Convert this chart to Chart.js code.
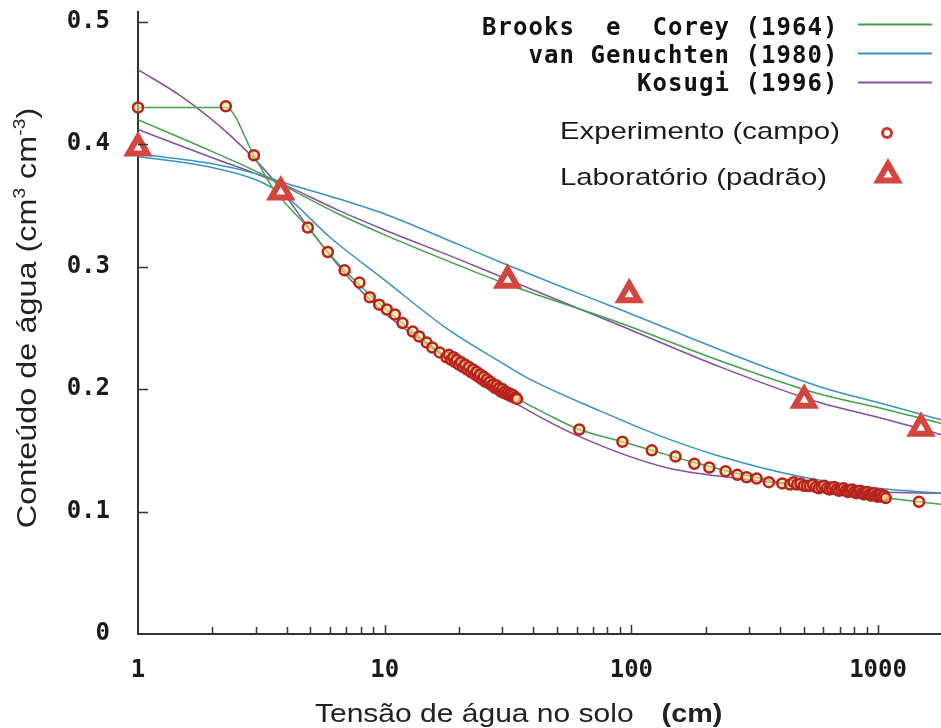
<!DOCTYPE html>
<html lang="pt">
<head>
<meta charset="UTF-8">
<title>Curva de retenção de água no solo</title>
<script src="https://cdn.jsdelivr.net/npm/chart.js"></script>
<style>
  html, body { margin: 0; padding: 0; background: #fff; }
  #wrap { width: 941px; height: 728px; }
</style>
</head>
<body>
<div id="wrap"><canvas id="retencao" width="941" height="728"></canvas></div>
<script>
// eixos
const xTickVals = [1, 10, 100, 1000];
const xMinorTicks = [2, 3, 4, 5, 6, 7, 8, 9, 20, 30, 40, 50, 60, 70, 80, 90, 200, 300, 400, 500, 600, 700, 800, 900];
const yTickVals = [0, 0.1, 0.2, 0.3, 0.4, 0.5];

// Experimento (campo): tensão (cm) e conteúdo de água
const hCampo = [1, 2.27, 2.95, 4.88, 5.88, 6.88, 7.9, 8.7, 9.5, 10.2, 11.0, 11.8, 13.0, 13.8, 14.8, 15.6, 16.7, 17.8,
  18.2, 18.6, 19.0, 19.3, 19.6, 20.0, 20.4, 20.8, 21.2, 21.6, 22.0, 22.4, 22.8, 23.2, 23.6, 24.0, 24.4, 24.8, 25.2, 25.6,
  26.0, 26.4, 26.8, 27.2, 27.6, 28.0, 28.4, 28.8, 29.2, 29.6, 30.0, 30.4, 30.8, 31.2, 31.6, 32.0, 32.4, 32.8, 33.2, 33.6, 34.0, 34.4,
  61.5, 92, 121, 151, 180, 207, 241, 269, 293, 322, 361, 409,
  440, 455, 470, 485, 500, 515, 530, 545, 560, 575, 590, 605, 620, 635, 650, 665, 680, 695, 710, 725, 740, 755, 770, 785,
  800, 815, 830, 845, 860, 875, 890, 905, 920, 935, 950, 965, 980, 995, 1010, 1025, 1040, 1060, 1075, 1466];
const thCampo = [0.430, 0.431, 0.391, 0.332, 0.312, 0.297, 0.287, 0.275, 0.269, 0.265, 0.261, 0.254, 0.247, 0.243, 0.238, 0.234, 0.230, 0.226,
  0.228, 0.224, 0.226, 0.222, 0.224, 0.220, 0.222, 0.218, 0.220, 0.216, 0.218, 0.214, 0.216, 0.212, 0.214, 0.210, 0.212, 0.208, 0.210, 0.206,
  0.208, 0.205, 0.206, 0.203, 0.204, 0.201, 0.203, 0.200, 0.201, 0.198, 0.200, 0.197, 0.198, 0.196, 0.197, 0.195, 0.196, 0.194, 0.195, 0.193, 0.193, 0.192,
  0.167, 0.157, 0.150, 0.145, 0.139, 0.136, 0.133, 0.130, 0.128, 0.127, 0.124, 0.123,
  0.122, 0.124, 0.122, 0.123, 0.121, 0.121, 0.121, 0.122, 0.120, 0.119, 0.120, 0.121, 0.119, 0.118, 0.119, 0.120, 0.118, 0.117, 0.118, 0.119, 0.117, 0.116, 0.117, 0.118,
  0.116, 0.115, 0.116, 0.117, 0.115, 0.114, 0.115, 0.116, 0.114, 0.113, 0.114, 0.115, 0.113, 0.112, 0.113, 0.114, 0.112, 0.113, 0.111, 0.108];

// Laboratório (padrão)
const hLab = [1, 3.79, 31.5, 98, 502, 1493];
const thLab = [0.397, 0.361, 0.289, 0.277, 0.191, 0.168];

// Brooks e Corey (1964)
const hBcLab = [1, 2, 3, 4, 6.5, 10, 20, 31, 90, 230, 580, 1000, 1800];
const thBcLab = [0.420, 0.394, 0.378, 0.365, 0.343, 0.326, 0.301, 0.286, 0.254, 0.223, 0.196, 0.185, 0.172];
const hBcCampo = [1, 2.27, 2.95, 3.5, 4.88, 5.88, 6.88, 7.9, 10, 13, 16, 20, 25, 33, 45, 61.5, 92, 121, 180, 270, 400, 700, 1080, 1466, 1800];
const thBcCampo = [0.430, 0.430, 0.391, 0.365, 0.332, 0.312, 0.297, 0.285, 0.266, 0.247, 0.233, 0.220, 0.207, 0.194, 0.180, 0.167, 0.157, 0.150, 0.140, 0.131, 0.124, 0.116, 0.111, 0.108, 0.106];

// van Genuchten (1980)
const hVgLab = [1, 2, 3, 4, 6.6, 10, 20, 30, 50, 90, 230, 580, 1000, 1800];
const thVgLab = [0.392, 0.384, 0.376, 0.368, 0.355, 0.343, 0.318, 0.303, 0.285, 0.265, 0.232, 0.202, 0.189, 0.175];
const hVgCampo = [1, 2, 3, 4, 6, 10, 18, 29, 38, 75, 130, 230, 500, 1000, 1800];
const thVgCampo = [0.390, 0.381, 0.371, 0.357, 0.324, 0.289, 0.249, 0.223, 0.209, 0.182, 0.162, 0.145, 0.128, 0.119, 0.115];

// Kosugi (1996)
const hKsLab = [1, 2, 3, 4, 6.5, 10, 20, 32, 90, 230, 580, 1000, 1800];
const thKsLab = [0.412, 0.389, 0.376, 0.366, 0.346, 0.330, 0.306, 0.289, 0.252, 0.218, 0.189, 0.177, 0.163];
const hKsCampo = [1, 1.5, 2.4, 3.5, 5, 7, 10, 15, 20, 35, 62, 138, 274, 500, 1000, 1800];
const thKsCampo = [0.461, 0.439, 0.406, 0.372, 0.330, 0.293, 0.262, 0.236, 0.218, 0.187, 0.161, 0.136, 0.127, 0.121, 0.116, 0.115];

const VERDE = '#43a24c';
const AZUL = '#3b92c2';
const ROXO = '#84509e';
const VERMELHO = '#d4453f';

const pares = (hs, ths) => hs.map((h, i) => ({ x: h, y: ths[i] }));

function curva(label, cor, hs, ths) {
  return {
    label: label,
    data: pares(hs, ths),
    borderColor: cor,
    borderWidth: 1.5,
    pointRadius: 0,
    cubicInterpolationMode: 'monotone',
    fill: false,
    order: 2
  };
}

const fonteMono = '"DejaVu Sans Mono", "Liberation Mono", monospace';
const fonteSans = '"Liberation Sans", Arial, sans-serif';

// desenha texto monoespaçado com avanço fixo, alinhado à direita
function textoMono(ctx, txt, xDir, yBase, passo) {
  const x0 = xDir - txt.length * passo;
  ctx.textAlign = 'center';
  for (let i = 0; i < txt.length; i++) {
    ctx.fillText(txt[i], x0 + i * passo + passo / 2, yBase);
  }
}

// texto com estiramento horizontal
function textoLargo(ctx, txt, x, y, esc) {
  ctx.save();
  ctx.translate(x, y);
  ctx.scale(esc, 1);
  ctx.textAlign = 'left';
  ctx.fillText(txt, 0, 0);
  ctx.restore();
  return ctx.measureText(txt).width * esc;
}

function triangulo(ctx, x, y, r) {
  ctx.beginPath();
  for (let k = 0; k < 3; k++) {
    const a = k * 2 * Math.PI / 3;
    const px = x + Math.sin(a) * r, py = y - Math.cos(a) * r;
    if (k === 0) ctx.moveTo(px, py); else ctx.lineTo(px, py);
  }
  ctx.closePath();
}

// sem folga extra para os rótulos das pontas
function semFolga(s) {
  s.paddingTop = 0;
  s.paddingBottom = 0;
  s.paddingLeft = 0;
  s.paddingRight = 0;
}

// traços internos dos eixos
const ticksInternos = {
  id: 'ticksInternos',
  afterDraw(chart) {
    const { ctx, chartArea, scales: { x, y } } = chart;
    ctx.save();
    ctx.strokeStyle = '#333';
    ctx.lineWidth = 1.5;
    ctx.beginPath();
    yTickVals.slice(1).forEach(v => {
      const py = Math.round(y.getPixelForValue(v)) + 0.5;
      ctx.moveTo(chartArea.left, py);
      ctx.lineTo(chartArea.left + 10, py);
    });
    xMinorTicks.forEach(v => {
      const px = Math.round(x.getPixelForValue(v)) + 0.5;
      ctx.moveTo(px, chartArea.bottom);
      ctx.lineTo(px, chartArea.bottom - 7);
    });
    xTickVals.slice(1).forEach(v => {
      const px = Math.round(x.getPixelForValue(v)) + 0.5;
      ctx.moveTo(px, chartArea.bottom);
      ctx.lineTo(px, chartArea.bottom - 9);
    });
    ctx.stroke();
    ctx.restore();
  }
};

// títulos dos eixos
const titulos = {
  id: 'titulos',
  afterDraw(chart) {
    const ctx = chart.ctx;
    ctx.save();
    ctx.fillStyle = '#222';
    ctx.textBaseline = 'alphabetic';
    ctx.font = '25px ' + fonteSans;
    const w = textoLargo(ctx, 'Tensão de água no solo', 315, 722, 1.2);
    ctx.font = 'bold 25px ' + fonteSans;
    textoLargo(ctx, '(cm)', 315 + w + 28, 722, 1.15);

    // eixo y, rotacionado
    const partes = [
      { t: 'Conteúdo de água (cm', sup: false },
      { t: '3', sup: true },
      { t: ' cm', sup: false },
      { t: '-3', sup: true },
      { t: ')', sup: false }
    ];
    const fN = '27px ' + fonteSans, fS = '16px ' + fonteSans;
    let total = 0;
    partes.forEach(p => { ctx.font = p.sup ? fS : fN; p.w = ctx.measureText(p.t).width; total += p.w; });
    ctx.translate(36, 318);
    ctx.rotate(-Math.PI / 2);
    ctx.scale(1.2, 1);
    let px = -total / 2;
    ctx.textAlign = 'left';
    partes.forEach(p => {
      ctx.font = p.sup ? fS : fN;
      ctx.fillText(p.t, px, p.sup ? -11 : 0);
      px += p.w;
    });
    ctx.restore();
  }
};

// legenda no canto superior direito
const legenda = {
  id: 'legenda',
  afterDraw(chart) {
    const ctx = chart.ctx;
    const ds = chart.data.datasets;
    const modelos = [
      { d: ds[2], base: 35, linha: 24 },
      { d: ds[4], base: 63, linha: 53 },
      { d: ds[6], base: 91, linha: 82 }
    ];
    ctx.save();
    ctx.fillStyle = '#111';
    ctx.font = 'bold 24px ' + fonteMono;
    ctx.textBaseline = 'alphabetic';
    modelos.forEach(m => {
      textoMono(ctx, m.d.label, 838, m.base, 15.5);
      ctx.strokeStyle = m.d.borderColor;
      ctx.lineWidth = 2;
      ctx.beginPath();
      ctx.moveTo(858, m.linha + 0.5);
      ctx.lineTo(932, m.linha + 0.5);
      ctx.stroke();
    });

    ctx.fillStyle = '#1a1a1a';
    ctx.font = '24px ' + fonteSans;
    textoLargo(ctx, ds[1].label, 560, 139, 1.22);
    textoLargo(ctx, ds[0].label, 560, 185, 1.22);

    // marcadores
    ctx.lineWidth = 3;
    ctx.strokeStyle = '#c83a32';
    ctx.fillStyle = '#fff';
    ctx.beginPath();
    ctx.arc(887, 133, 4.5, 0, 2 * Math.PI);
    ctx.fill();
    ctx.stroke();

    ctx.lineWidth = 6;
    ctx.strokeStyle = VERMELHO;
    triangulo(ctx, 888, 175, 11);
    ctx.fill();
    ctx.stroke();
    ctx.restore();
  }
};

new Chart(document.getElementById('retencao'), {
  type: 'line',
  data: {
    datasets: [
      {
        label: 'Laboratório (padrão)',
        data: pares(hLab, thLab),
        showLine: false,
        pointStyle: 'triangle',
        pointRadius: 11,
        pointBorderWidth: 6,
        pointBorderColor: VERMELHO,
        pointBackgroundColor: '#fff',
        clip: false,
        order: 0
      },
      {
        label: 'Experimento (campo)',
        data: pares(hCampo, thCampo),
        showLine: false,
        pointStyle: 'circle',
        pointRadius: 5,
        pointBorderWidth: 2.5,
        pointBorderColor: '#b8221c',
        pointBackgroundColor: 'rgba(245, 222, 140, 0.6)',
        clip: false,
        order: 1
      },
      curva('Brooks  e  Corey (1964)', VERDE, hBcLab, thBcLab),
      curva('Brooks  e  Corey (1964)', VERDE, hBcCampo, thBcCampo),
      curva('van Genuchten (1980)', AZUL, hVgLab, thVgLab),
      curva('van Genuchten (1980)', AZUL, hVgCampo, thVgCampo),
      curva('Kosugi (1996)', ROXO, hKsLab, thKsLab),
      curva('Kosugi (1996)', ROXO, hKsCampo, thKsCampo)
    ]
  },
  options: {
    responsive: false,
    animation: false,
    devicePixelRatio: 1,
    layout: { autoPadding: false, padding: { top: 12, right: 0, bottom: 0, left: 0 } },
    plugins: {
      legend: { display: false },
      tooltip: { enabled: false }
    },
    scales: {
      x: {
        type: 'logarithmic',
        position: 'bottom',
        min: 1,
        max: 1800,
        afterBuildTicks: s => { s.ticks = xTickVals.map(v => ({ value: v })); },
        afterFit: s => { s.height = 94; semFolga(s); },
        grid: { display: false, drawTicks: false },
        border: { display: true, color: '#333', width: 2 },
        ticks: {
          autoSkip: false,
          maxRotation: 0,
          padding: 22,
          color: '#1a1a1a',
          font: { family: fonteMono, size: 24, weight: 'bold' },
          callback: v => String(v)
        }
      },
      y: {
        type: 'linear',
        min: 0,
        max: 0.508,
        afterBuildTicks: s => { s.ticks = yTickVals.map(v => ({ value: v })); },
        afterFit: s => { s.width = 138; semFolga(s); },
        grid: { display: false, drawTicks: false },
        border: { display: true, color: '#333', width: 2 },
        ticks: {
          padding: 28,
          color: '#1a1a1a',
          font: { family: fonteMono, size: 24, weight: 'bold' },
          callback: v => (v === 0 ? '0' : v.toFixed(1))
        }
      }
    }
  },
  plugins: [ticksInternos, titulos, legenda]
});
</script>
</body>
</html>
